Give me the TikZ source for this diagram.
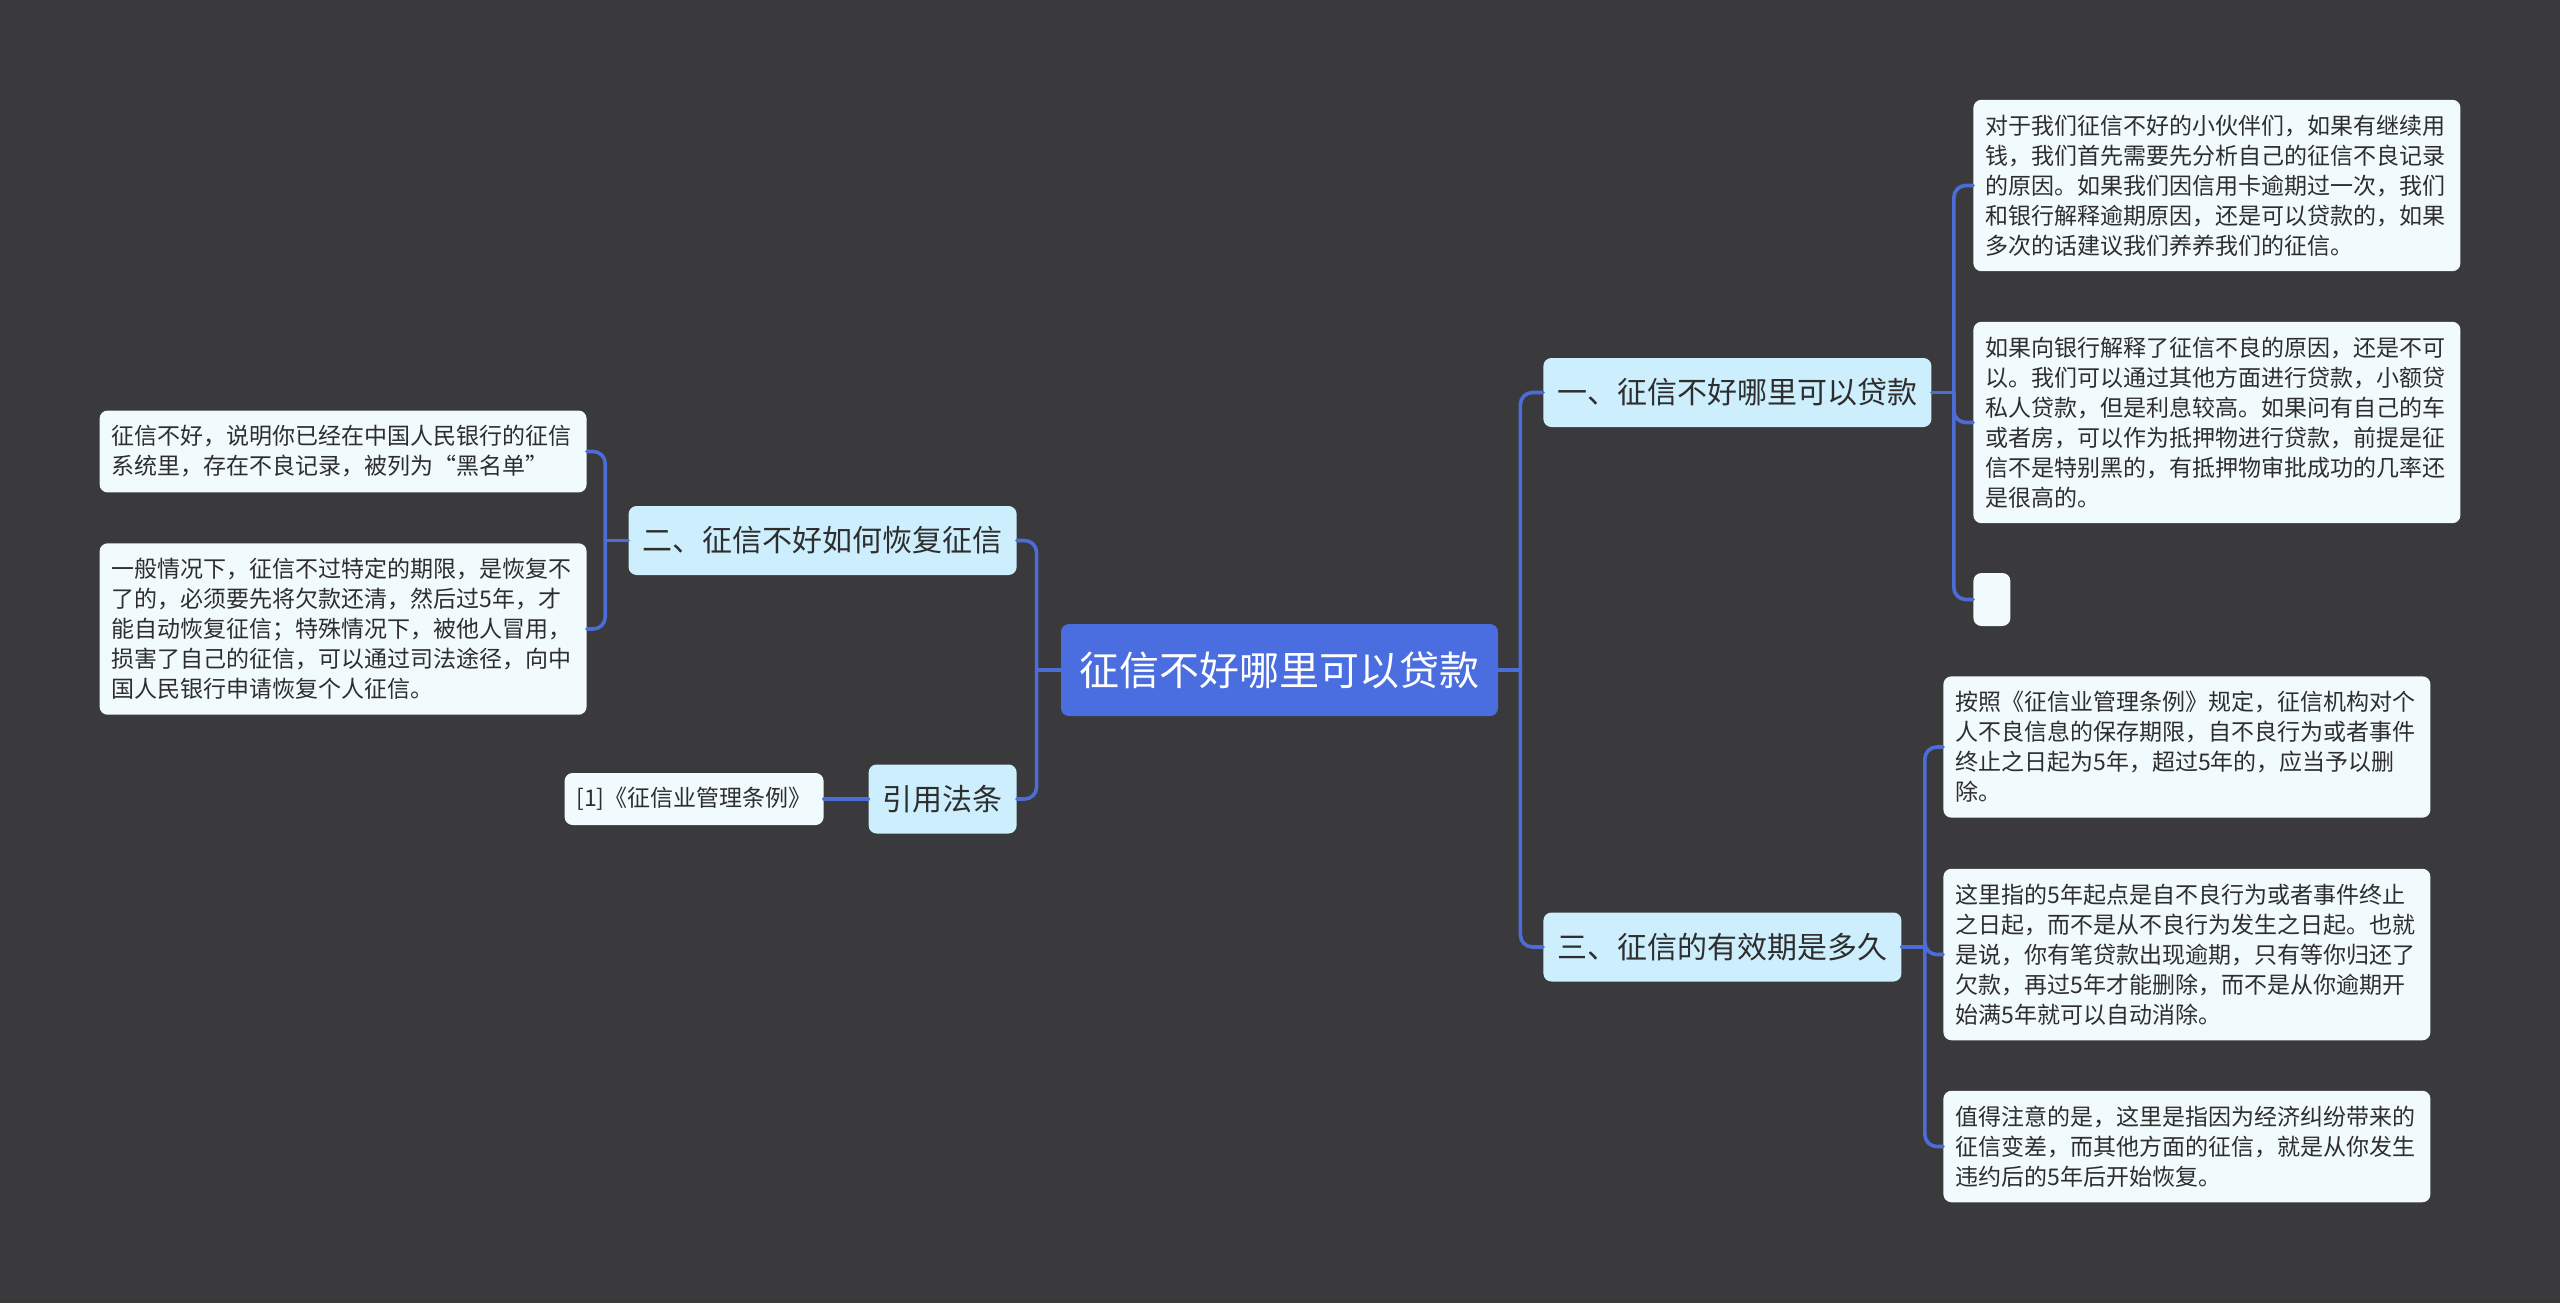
\documentclass[tikz,border=0pt]{standalone}
\usepackage{fontspec}
\setmainfont{Noto Sans CJK SC}
\definecolor{bg}{HTML}{3A393B}
\definecolor{linkblue}{HTML}{4C6DD8}
\definecolor{rootblue}{HTML}{4A6DE0}
\definecolor{topicblue}{HTML}{CDEEFC}
\definecolor{leafwhite}{HTML}{F1FAFC}
\definecolor{ink}{HTML}{2E2E2E}
\begin{document}
\begin{tikzpicture}[x=0.5pt,y=-0.5pt,line join=round,line cap=round,
		link/.style={draw=linkblue,line width=1.8pt,rounded corners=6pt},
		root/.style={fill=rootblue,text=white,rounded corners=4pt,font=\fontsize{20pt}{24pt}\selectfont,inner xsep=9.25pt,inner ysep=0pt,minimum height=46pt},
		topic/.style={fill=topicblue,text=ink,rounded corners=4pt,font=\fontsize{15pt}{18pt}\selectfont,inner xsep=7pt,inner ysep=0pt,minimum height=34.5pt},
		leaf/.style={fill=leafwhite,text=ink,rounded corners=4pt,font=\fontsize{11.5pt}{15pt}\selectfont,text width=231.5pt,align=left,inner xsep=6pt,inner ysep=7.5pt}]
			\useasboundingbox (0,0) rectangle (2560,1303);
			\fill[bg] (0,0) rectangle (2560,1303);
			
			\node[root] (ctr) at (1279.5,670) {征信不好哪里可以贷款};
			
			\node[topic,anchor=west] (one) at (1543,392.5) {一、征信不好哪里可以贷款};
			\node[topic,anchor=west] (three) at (1543,947) {三、征信的有效期是多久};
			\node[topic,anchor=east] (two) at (1017,540.5) {二、征信不好如何恢复征信};
			\node[topic,anchor=east] (law) at (1017,799) {引用法条};
			
			\node[leaf,anchor=west] (onea) at (1973,185.5) {对于我们征信不好的小伙伴们，如果有继续用\\钱，我们首先需要先分析自己的征信不良记录\\的原因。如果我们因信用卡逾期过一次，我们\\和银行解释逾期原因，还是可以贷款的，如果\\多次的话建议我们养养我们的征信。};
			\node[leaf,anchor=west] (oneb) at (1973,422.5) {如果向银行解释了征信不良的原因，还是不可\\以。我们可以通过其他方面进行贷款，小额贷\\私人贷款，但是利息较高。如果问有自己的车\\或者房，可以作为抵押物进行贷款，前提是征\\信不是特别黑的，有抵押物审批成功的几率还\\是很高的。};
			\node[fill=leafwhite,rounded corners=4pt,inner sep=0pt,minimum width=18.5pt,minimum height=26.5pt,anchor=west] (onec) at (1973,599.5) {};
			
			\node[leaf,anchor=west] (threea) at (1943,747) {按照《征信业管理条例》规定，征信机构对个\\人不良信息的保存期限，自不良行为或者事件\\终止之日起为5年，超过5年的，应当予以删\\除。};
			\node[leaf,anchor=west] (threeb) at (1943,954.5) {这里指的5年起点是自不良行为或者事件终止\\之日起，而不是从不良行为发生之日起。也就\\是说，你有笔贷款出现逾期，只有等你归还了\\欠款，再过5年才能删除，而不是从你逾期开\\始满5年就可以自动消除。};
			\node[leaf,anchor=west] (threec) at (1943,1146.5) {值得注意的是，这里是指因为经济纠纷带来的\\征信变差，而其他方面的征信，就是从你发生\\违约后的5年后开始恢复。};
			
			\node[leaf,anchor=east] (twoa) at (587,451.5) {征信不好，说明你已经在中国人民银行的征信\\系统里，存在不良记录，被列为“黑名单”};
			\node[leaf,anchor=east] (twob) at (587,629) {一般情况下，征信不过特定的期限，是恢复不\\了的，必须要先将欠款还清，然后过5年，才\\能自动恢复征信；特殊情况下，被他人冒用，\\损害了自己的征信，可以通过司法途径，向中\\国人民银行申请恢复个人征信。};
			
			\node[fill=leafwhite,text=ink,rounded corners=4pt,font=\fontsize{11.5pt}{15pt}\selectfont,inner sep=0pt,minimum width=129.5pt,minimum height=26pt,anchor=east] (lawa) at (824,799) {[1]《征信业管理条例》};
			
			\draw[link] (ctr.east) -- ++(22,0) coordinate (jr);
			\draw[link] (ctr.west) -- ++(-24,0) coordinate (jl);
			\foreach \t in {one,three} \draw[link] (jr) |- (\t.west);
			\foreach \t in {two,law} \draw[link] (jl) |- (\t.east);
			
			\draw[link] (one.east) -- ++(22,0) coordinate (j1);
			\foreach \l in {onea,oneb,onec} \draw[link] (j1) |- (\l.west);
			\draw[link] (three.east) -- ++(23,0) coordinate (j3);
			\foreach \l in {threea,threeb,threec} \draw[link] (j3) |- (\l.west);
			\draw[link] (two.west) -- ++(-23,0) coordinate (j2);
			\foreach \l in {twoa,twob} \draw[link] (j2) |- (\l.east);
			\draw[link] (law.west) -- (lawa.east);
		\end{tikzpicture}
\end{document}
